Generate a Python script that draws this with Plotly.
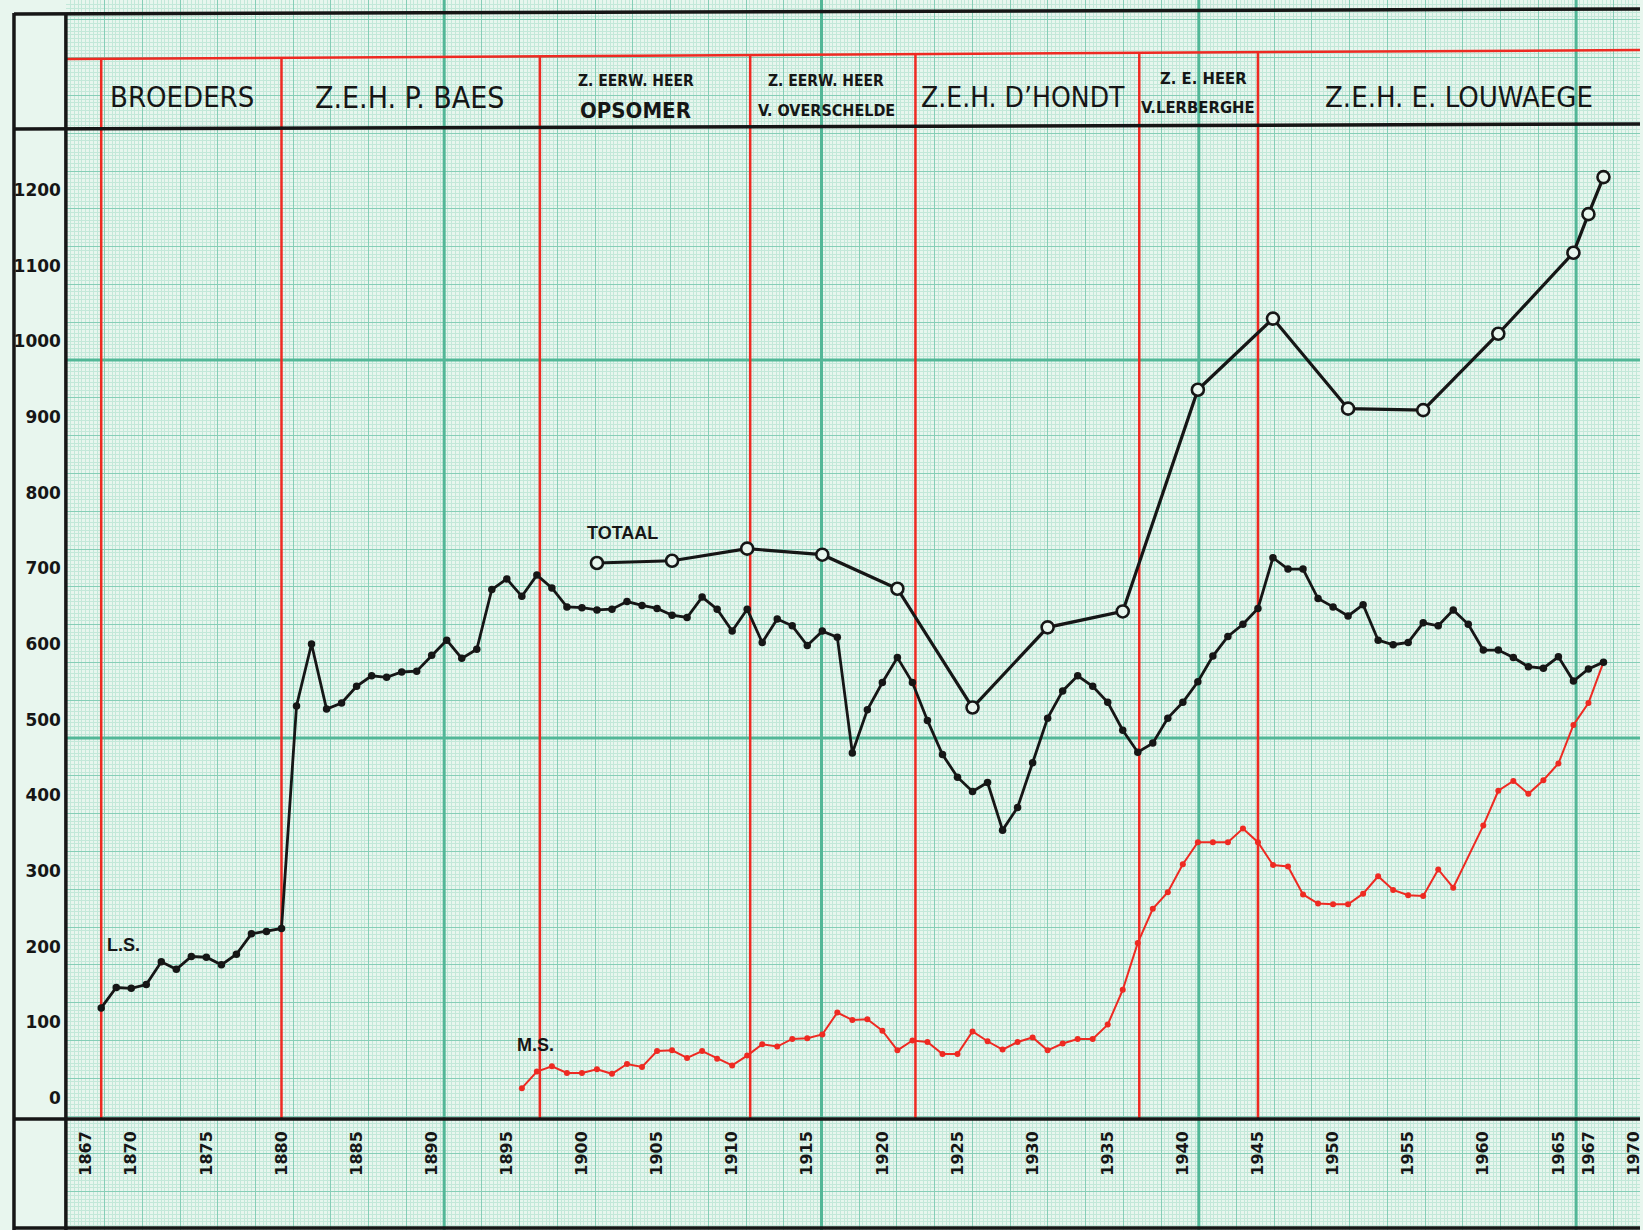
import plotly.graph_objects as go

# ---------------- data ----------------
ls_years = list(range(1868, 1969))
ls_values = [
    119, 146, 145, 150, 180, 170, 187, 186, 176, 190, 217, 220, 224,          # 1868-1880
    518, 600, 514, 522, 544, 558, 556, 563, 564, 585, 605, 581, 593, 672,     # 1881-1894
    686, 663, 691, 674, 649,                                                   # 1895-1899
    648, 645, 646, 656, 651, 647, 638, 635, 662, 646,                          # 1900-1909
    617, 646, 602, 633, 624, 598, 617, 609, 456, 513,                          # 1910-1919
    549, 582, 549, 499, 454, 424, 405, 417, 354, 384,                          # 1920-1929
    443, 502, 538, 558, 544, 523, 486, 457, 469, 502,                          # 1930-1939
    523, 550, 584, 610, 626, 647, 714, 699, 699, 660,                          # 1940-1949
    649, 637, 652, 605, 599, 602, 628, 624, 645, 626,                          # 1950-1959
    592, 592, 582, 570, 568, 583, 551, 567, 576,                               # 1960-1968
]

ms_years = list(range(1896, 1959)) + list(range(1960, 1969))
ms_values = [
    13, 35, 42, 33,                                                            # 1896-1899
    33, 38, 32, 45, 41, 62, 63, 53, 62, 52,                                    # 1900-1909
    43, 56, 71, 68, 78, 79, 84, 113, 103, 104,                                 # 1910-1919
    89, 63, 76, 74, 58, 58, 88, 75, 64, 74,                                    # 1920-1929
    80, 63, 72, 78, 78, 97, 143, 205, 250, 272,                                # 1930-1939
    309, 338, 338, 338, 356, 338, 308, 306, 269, 257,                          # 1940-1949
    256, 256, 270, 293, 275, 268, 267, 302, 278,                               # 1950-1958
    360, 406, 419, 402, 420, 442, 493, 522, 576,                               # 1960-1968
]

tot_years = [1901, 1906, 1911, 1916, 1921, 1926, 1931, 1936,
             1941, 1946, 1951, 1956, 1961, 1966, 1967, 1968]
tot_values = [707, 710, 726, 718, 673, 516, 622, 643,
              936, 1030, 911, 909, 1010, 1117, 1168, 1217]

period_bounds = [1868.0, 1880.0, 1897.2, 1911.2, 1922.2, 1937.1, 1945.0]

x_tick_years = [1867, 1870, 1875, 1880, 1885, 1890, 1895, 1900, 1905, 1910,
                1915, 1920, 1925, 1930, 1935, 1940, 1945, 1950, 1955, 1960,
                1965, 1967, 1970]
y_tick_values = list(range(0, 1201, 100))

header_big = ["BROEDERS", "Z.E.H. P. BAES", "Z.E.H. D\u2019HONDT", "Z.E.H. E. LOUWAEGE"]
header_small_top = ["Z. EERW. HEER", "Z. EERW. HEER", "Z. E. HEER"]
header_small_bottom = ["OPSOMER", "V. OVERSCHELDE", "V.LERBERGHE"]

# ---------------- layout geometry (pixels) ----------------
W, H = 1643, 1230
X_FRAME0, X_FRAME1 = 14, 66
Y_AXIS = 1119


def yr(px):
    return 1880 + (px - 282) / 15.05


def val(py):
    return (1098 - py) / 0.7567


def pyp(py):
    return 1 - py / H


PAPER = "#e8f6ee"
FINE = "#c3e8d9"
MED = "#86ceb7"
THICK = "#52b797"
INK = "#161616"
RED = "#ee2a22"

fig = go.Figure()

# dummy trace so the graph-paper subplot exists
fig.add_trace(go.Scatter(x=[None], y=[None], xaxis="x", yaxis="y",
                         hoverinfo="skip", showlegend=False))

fig.add_trace(go.Scatter(
    x=ms_years, y=ms_values, xaxis="x2", yaxis="y2", mode="lines+markers",
    line=dict(color=RED, width=2), marker=dict(color=RED, size=6),
    hoverinfo="skip", showlegend=False))

fig.add_trace(go.Scatter(
    x=ls_years, y=ls_values, xaxis="x2", yaxis="y2", mode="lines+markers",
    line=dict(color=INK, width=2.8), marker=dict(color=INK, size=7.5),
    hoverinfo="skip", showlegend=False))

fig.add_trace(go.Scatter(
    x=tot_years, y=tot_values, xaxis="x2", yaxis="y2", mode="lines+markers",
    line=dict(color=INK, width=3.2),
    marker=dict(color=PAPER, size=12, line=dict(color=INK, width=2.6)),
    hoverinfo="skip", showlegend=False))

shapes = []
# thick graph-paper lines
for k in range(1, 5):
    xx = 67 + 378 * k
    shapes.append(dict(type="line", xref="x", yref="y", x0=xx, x1=xx, y0=0, y1=H,
                       line=dict(color=THICK, width=3), layer="between"))
for yy in (360, 738):
    shapes.append(dict(type="line", xref="x", yref="y", x0=66, x1=W, y0=yy, y1=yy,
                       line=dict(color=THICK, width=3), layer="between"))


def red_top(px):
    return 59 - 9 * (px - 66) / (W - 66)


# red header line and red period boundaries
shapes.append(dict(type="line", xref="x2", yref="y2",
                   x0=yr(66), x1=yr(W), y0=val(red_top(66)), y1=val(red_top(W)),
                   line=dict(color=RED, width=2.5), layer="between"))
for b in period_bounds:
    px = 282 + (b - 1880) * 15.05
    shapes.append(dict(type="line", xref="x2", yref="y2",
                       x0=b, x1=b, y0=val(Y_AXIS), y1=val(red_top(px)),
                       line=dict(color=RED, width=2.5), layer="between"))

# black frame
frame = [
    ((X_FRAME0, 14), (W, 9)),
    ((X_FRAME0, 129), (W, 124)),
    ((X_FRAME0, Y_AXIS), (W, Y_AXIS)),
    ((X_FRAME0, 1228), (W, 1228)),
    ((X_FRAME0, 13), (X_FRAME0, H)),
    ((X_FRAME1, 13), (X_FRAME1, H)),
]
for (a, b) in frame:
    shapes.append(dict(type="line", xref="paper", yref="paper",
                       x0=a[0] / W, y0=pyp(a[1]), x1=b[0] / W, y1=pyp(b[1]),
                       line=dict(color=INK, width=3.5), layer="above"))

annotations = []
FAMILY = "Liberation Sans Narrow, DejaVu Sans Condensed, Liberation Sans, sans-serif"

for text, px, sz in zip(header_big, [182, 411, 1025, 1462], [29, 30, 28, 29]):
    annotations.append(dict(text=text, x=px / W, y=pyp(97), xref="paper", yref="paper",
                            showarrow=False, xanchor="center", yanchor="middle",
                            font=dict(family=FAMILY, size=sz, color=INK)))
for text, px, py, sz in zip(header_small_top, [637, 828, 1206], [81, 81, 79], [15.5, 15.5, 16.5]):
    annotations.append(dict(text=text, x=px / W, y=pyp(py), xref="paper", yref="paper",
                            showarrow=False, xanchor="center", yanchor="middle",
                            font=dict(family=FAMILY, size=sz, color=INK, weight="bold")))
for text, px, py, sz in zip(header_small_bottom, [637, 828, 1200], [110, 110, 108], [22, 16, 16.5]):
    annotations.append(dict(text=text, x=px / W, y=pyp(py), xref="paper", yref="paper",
                            showarrow=False, xanchor="center", yanchor="middle",
                            font=dict(family=FAMILY, size=sz, color=INK, weight="bold")))

LBL_FONT = dict(family="Liberation Sans, Arial, sans-serif", size=18, color=INK, weight="bold")
for text, px, py in [("TOTAAL", 624, 533), ("L.S.", 124, 945), ("M.S.", 536, 1045)]:
    annotations.append(dict(text=text, x=px / W, y=pyp(py), xref="paper", yref="paper",
                            showarrow=False, xanchor="center", yanchor="middle", font=LBL_FONT))

fig.update_layout(
    width=W, height=H,
    margin=dict(l=0, r=0, t=0, b=0, pad=0),
    paper_bgcolor=PAPER, plot_bgcolor="rgba(0,0,0,0)",
    showlegend=False,
    xaxis=dict(domain=[X_FRAME1 / W, 1], range=[66, W], anchor="y",
               showticklabels=False, zeroline=False, showline=False, ticks="",
               tick0=67, dtick=37.8, showgrid=True, gridcolor=MED, gridwidth=1,
               minor=dict(tick0=67, dtick=3.78, showgrid=True, gridcolor=FINE, gridwidth=1, ticks=""),
               fixedrange=True),
    yaxis=dict(domain=[0, 1], range=[H, 0], anchor="x",
               showticklabels=False, zeroline=False, showline=False, ticks="",
               tick0=360 - 9 * 37.8, dtick=37.8, showgrid=True, gridcolor=MED, gridwidth=1,
               minor=dict(tick0=360 - 9 * 37.8, dtick=3.78, showgrid=True, gridcolor=FINE,
                          gridwidth=1, ticks=""),
               fixedrange=True),
    xaxis2=dict(domain=[X_FRAME1 / W, 1], range=[yr(66), yr(W)], anchor="y2",
                showgrid=False, zeroline=False, showline=False, ticks="",
                tickmode="array", tickvals=x_tick_years, ticktext=[str(v) for v in x_tick_years],
                tickangle=-90, ticklabelstandoff=8, ticklabeloverflow="allow",
                tickfont=dict(family="DejaVu Sans", size=16, color=INK, weight="bold"),
                fixedrange=True),
    yaxis2=dict(domain=[(H - Y_AXIS) / H, 1], range=[val(Y_AXIS), val(0)], anchor="x2",
                showgrid=False, zeroline=False, showline=False, ticks="",
                tickmode="array", tickvals=y_tick_values, ticktext=[str(v) for v in y_tick_values],
                ticklabelstandoff=4,
                tickfont=dict(family="DejaVu Sans", size=17, color=INK, weight="bold"),
                fixedrange=True),
    shapes=shapes,
    annotations=annotations,
)

fig.write_html(
    "out.html", include_plotlyjs=True, config={"displayModeBar": False},
    post_script="document.body.style.margin='0';document.body.style.overflow='hidden';"
                "document.body.style.background='" + PAPER + "';",
)
